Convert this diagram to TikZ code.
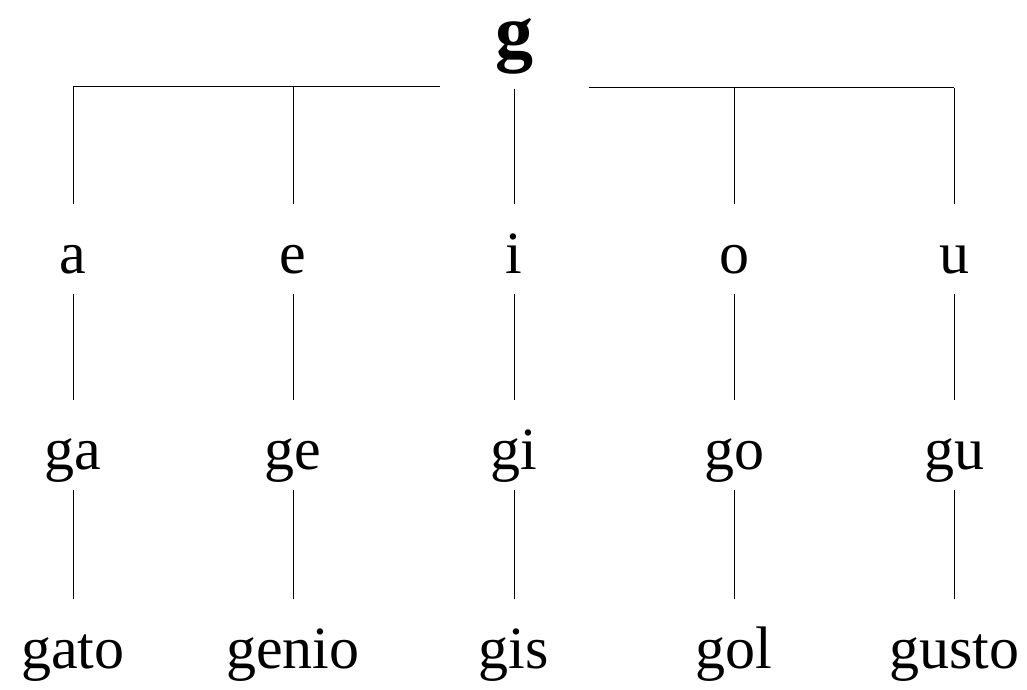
\documentclass[tikz,border=0pt]{standalone}
\usepackage{fontspec}
\setmainfont{Liberation Serif}
\begin{document}
\begin{tikzpicture}[x=1pt,y=1pt,
  word/.style={anchor=base,inner sep=0pt,text height=69pt,text depth=21pt,font=\fontsize{60}{72}\selectfont},
  root/.style={anchor=base,inner sep=0pt,text depth=31pt,font=\bfseries\fontsize{76}{90}\selectfont},
  link/.style={line width=1pt,black}]
\useasboundingbox (0,0) rectangle (1027,-690);
\node[root] (g) at (514,-58) {g};
% vowels
\node[word] (a) at (73,-273) {a};
\node[word] (e) at (293,-273) {e};
\node[word] (i) at (514,-273) {i};
\node[word] (o) at (734,-273) {o};
\node[word] (u) at (954,-273) {u};
% syllables
\node[word] (ga) at (73,-469) {ga};
\node[word] (ge) at (293,-469) {ge};
\node[word] (gi) at (514,-469) {gi};
\node[word] (go) at (734,-469) {go};
\node[word] (gu) at (954,-469) {gu};
% words
\node[word] (gato) at (73,-668) {gato};
\node[word] (genio) at (293,-668) {genio};
\node[word] (gis) at (514,-668) {gis};
\node[word] (gol) at (734,-668) {gol};
\node[word] (gusto) at (954,-668) {gusto};
% top bars
\coordinate (lb) at (440,-87);
\coordinate (rb) at (589,-88);
\draw[link] (a.north |- lb) -- (lb);
\draw[link] (rb) -- (u.north |- rb);
\draw[link] (a.north) -- (a.north |- lb);
\draw[link] (e.north) -- (e.north |- lb);
\draw[link] (g.south) -- (i.north);
\draw[link] (o.north) -- (o.north |- rb);
\draw[link] (u.north) -- (u.north |- rb);
% lower links
\foreach \p/\q in {a/ga,e/ge,i/gi,o/go,u/gu,ga/gato,ge/genio,gi/gis,go/gol,gu/gusto}
  \draw[link] (\p.south) -- (\q.north);
\end{tikzpicture}
\end{document}
